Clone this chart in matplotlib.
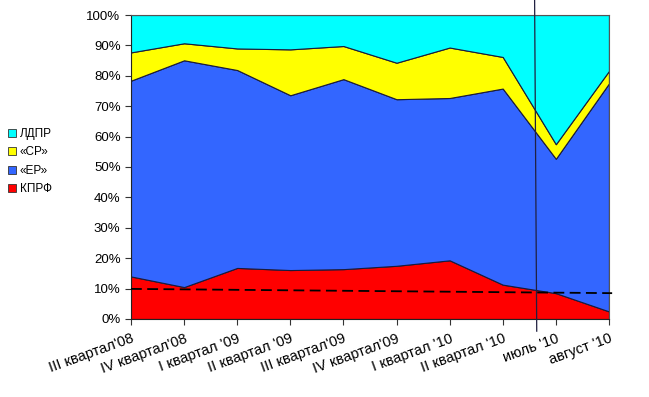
import numpy as np
import matplotlib
matplotlib.use('Agg')
import matplotlib.pyplot as plt
from matplotlib.patches import Patch

plt.rcParams['font.family'] = ['Liberation Sans', 'DejaVu Sans']

# periods on the x axis
periods = ["III квартал'08", "IV квартал'08", "I квартал '09", "II квартал '09",
           "III квартал'09", "IV квартал'09", "I квартал '10", "II квартал '10",
           "июль '10", "август '10"]

# shares, %
kprf = [14.0, 10.5, 16.8, 16.1, 16.4, 17.5, 19.3, 11.3, 8.5, 2.5]
er = [64.4, 74.6, 65.1, 57.5, 62.5, 54.8, 53.4, 64.5, 44.2, 75.0]
sr = [9.3, 5.6, 7.1, 15.1, 10.9, 12.0, 16.6, 10.4, 4.8, 4.1]
ldpr = [12.3, 9.3, 11.0, 11.3, 10.2, 15.7, 10.7, 13.8, 42.5, 18.4]

# dashed trend line for КПРФ, start and end values
trend = [9.9, 8.5]
# vertical separator position (between periods)
sep_x = 7.6

names = ['КПРФ', '«ЕР»', '«СР»', 'ЛДПР']
colors = ['#FF0000', '#3366FF', '#FFFF00', '#00FFFF']

fig = plt.figure(figsize=(6.49, 3.97), dpi=100)
ax = fig.add_axes([0.2018, 0.1965, 0.7365, 0.7657])

x = np.arange(len(periods))
ax.stackplot(x, kprf, er, sr, ldpr, colors=colors,
             edgecolor='#1a1a3a', linewidth=0.8)

ax.plot([x[0], x[-1] + 0.06], trend, color='black', linestyle=(0, (6, 3)),
        linewidth=1.3, clip_on=False, zorder=5)
ax.plot([sep_x, sep_x + 0.04], [105, -4], color='#202040', linewidth=0.9,
        clip_on=False, zorder=5)

ax.set_xlim(x[0], x[-1])
ax.set_ylim(0, 100)
ax.set_yticks(range(0, 101, 10))
ax.set_yticklabels([f'{v}%' for v in range(0, 101, 10)], fontsize=9.5)
ax.set_xticks(x)
ax.set_xticklabels(periods, rotation=20, ha='right', rotation_mode='anchor',
                   fontsize=10.5)
ax.tick_params(axis='both', direction='out', length=4, width=0.8,
               color='#333333')
ax.tick_params(axis='x', pad=5)
for side in ['top', 'right']:
    ax.spines[side].set_color('#555555')
for side in ['left', 'bottom']:
    ax.spines[side].set_color('#222222')

handles = [Patch(facecolor=c, edgecolor='#333333', linewidth=0.6, label=n)
           for n, c in zip(names, colors)][::-1]
fig.legend(handles=handles, loc='upper left', bbox_to_anchor=(0.005, 0.69),
           frameon=False, fontsize=8.5, handlelength=0.7, handleheight=0.7,
           handletextpad=0.3, labelspacing=0.55, borderaxespad=0)

fig.savefig('out.png', dpi=100)
